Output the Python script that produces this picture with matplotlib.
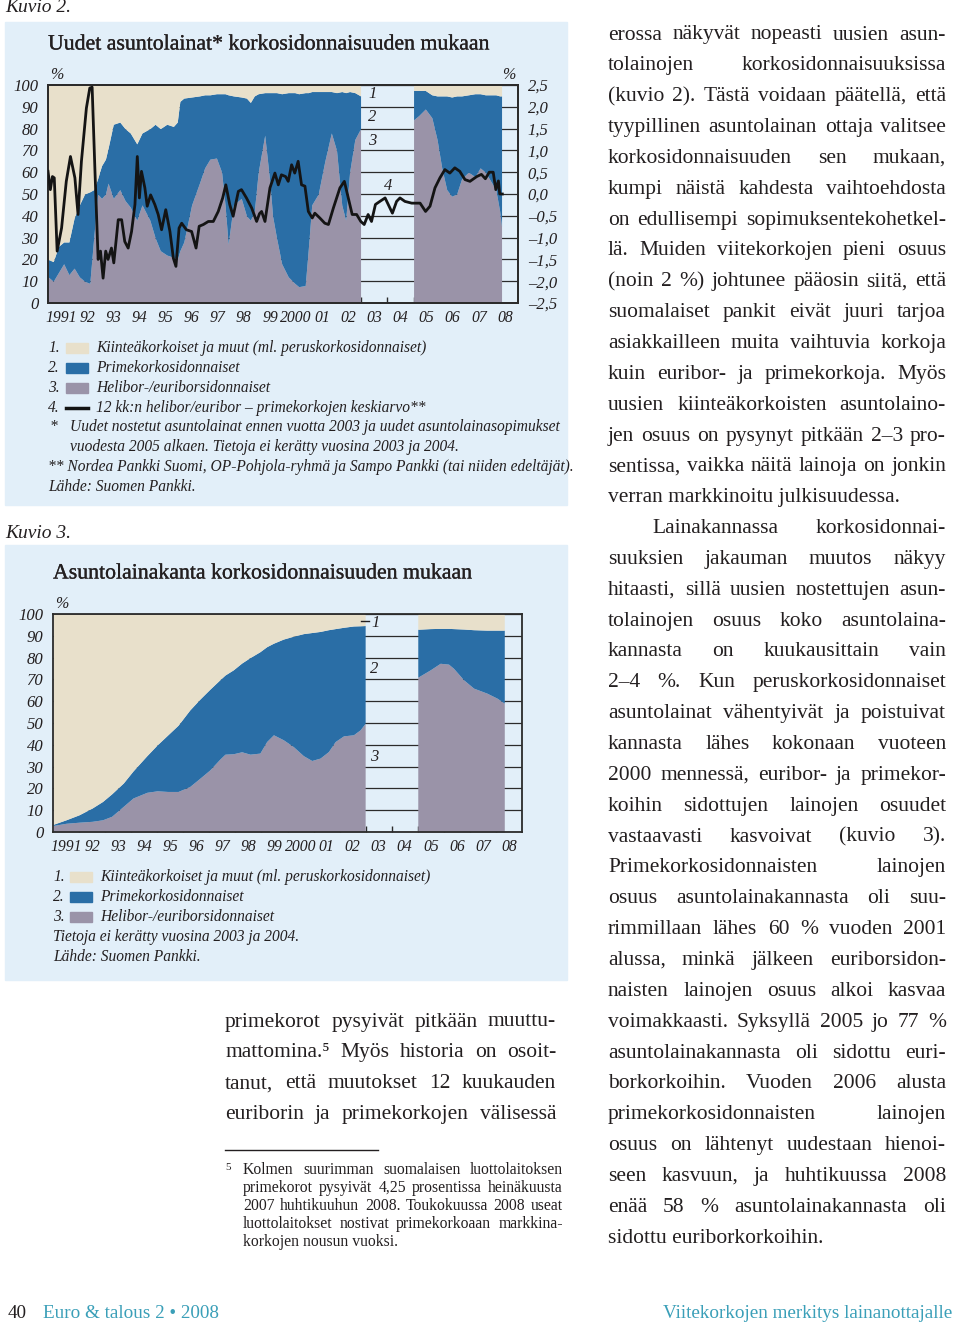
import numpy as np
import matplotlib
matplotlib.use('Agg')
import matplotlib.pyplot as plt
import matplotlib.patheffects as pe
from matplotlib.patches import Rectangle
from matplotlib.lines import Line2D

# --- Kuvio 2: uudet asuntolainat (osuus %, 2003-2004 ei tietoja) ---
k2_t = [1991.0, 1991.2, 1991.4, 1991.6, 1991.8, 1992.0, 1992.2, 1992.4, 1992.6, 1992.75,
        1992.9, 1993.05, 1993.2, 1993.3, 1993.5, 1993.75, 1993.95, 1994.15, 1994.4, 1994.6,
        1994.9, 1995.1, 1995.3, 1995.55, 1995.8, 1995.95, 1996.05, 1996.2, 1996.5, 1996.8,
        1997.0, 1997.2, 1997.45, 1997.65, 1997.78, 1997.9, 1998.1, 1998.4, 1998.6, 1998.75,
        1998.9, 1999.05, 1999.3, 1999.5, 1999.6, 1999.75, 1999.95, 2000.2, 2000.45, 2000.6,
        2000.85, 2000.97, 2001.1, 2001.35, 2001.6, 2001.85, 2002.05, 2002.25, 2002.4, 2002.55,
        2002.75, 2002.97,
        2005.0, 2005.2, 2005.45, 2005.7, 2005.9, 2006.08, 2006.27, 2006.46, 2006.65, 2006.84,
        2007.1, 2007.35, 2007.55, 2007.75, 2008.0, 2008.15, 2008.3, 2008.37]
k2_helibor = [12, 10, 14, 18, 13, 16, 12, 10, 9, 30,
              50, 48, 50, 55, 48, 52, 47, 44, 38, 45,
              38, 30, 24, 22, 21, 20, 24, 28, 45, 55,
              62, 66, 66.5, 60, 45, 27, 45, 48, 40, 38,
              42, 60, 77, 55, 40, 30, 18, 12, 9, 7.5,
              8, 25, 45, 50, 65, 78, 70, 45, 38, 60,
              75, 80,
              84, 86, 89, 85, 75, 62, 52, 49, 50, 57,
              60, 58, 62, 60, 55, 52, 42, 35]
k2_prime = [8, 9, 12, 10, 15, 23, 33, 40, 42, 22,
            7, 15, 16, 16, 34, 31, 33, 34, 35, 33,
            42, 52, 56, 60, 60, 63, 68.5, 66, 49.5, 40,
            33.5, 29.5, 29.5, 36, 51, 68.5, 50, 46.5, 54, 54,
            53, 36, 19.5, 41.5, 56.5, 66.5, 78, 84.5, 87.5, 88.5,
            88.5, 71.5, 52, 47, 32, 19, 26.5, 52, 58.5, 37,
            21.5, 15,
            13.5, 11.5, 8.5, 10.5, 20, 33, 43, 45.5, 45, 38,
            35.5, 38, 34, 35.5, 40.5, 43.5, 53, 60]

# 12 kk:n helibor/euribor - primekorkojen keskiarvo (prosenttiyksikköä, oikea asteikko)
k2_line_t = [1991.0, 1991.09, 1991.17, 1991.24, 1991.35, 1991.52, 1991.7, 1991.86, 1992.03, 1992.15,
             1992.28, 1992.47, 1992.6, 1992.69, 1992.8, 1992.92, 1993.01, 1993.11, 1993.21, 1993.3,
             1993.43, 1993.52, 1993.69, 1993.82, 1993.94, 1994.07, 1994.2, 1994.33, 1994.42, 1994.5,
             1994.58, 1994.71, 1994.8, 1994.93, 1995.09, 1995.22, 1995.35, 1995.51, 1995.67, 1995.8,
             1995.9, 1996.02, 1996.12, 1996.3, 1996.5, 1996.67, 1996.79, 1996.95, 1997.14, 1997.33,
             1997.52, 1997.69, 1997.81, 1997.96, 1998.09, 1998.29, 1998.41, 1998.6, 1998.8, 1998.99,
             1999.1, 1999.18, 1999.31, 1999.5, 1999.69, 1999.82, 1999.94, 2000.1, 2000.2, 2000.33,
             2000.45, 2000.58, 2000.71, 2000.84, 2000.97, 2001.12, 2001.22, 2001.41, 2001.6, 2001.74,
             2001.93, 2002.18, 2002.35, 2002.5, 2002.65, 2002.82, 2002.98, 2003.11, 2003.26, 2003.39,
             2003.54, 2003.71, 2003.91, 2004.03, 2004.19, 2004.35, 2004.48, 2004.67, 2004.93, 2005.25,
             2005.46, 2005.63, 2005.82, 2006.01, 2006.2, 2006.39, 2006.58, 2006.77, 2006.97, 2007.16,
             2007.42, 2007.6, 2007.75, 2007.9, 2008.05, 2008.15, 2008.25, 2008.3, 2008.4]
k2_spread = [0.52, 0.1, 0.4, 0.37, -1.31, -0.78, 0.29, 0.86, 0.37, -0.47,
             0.75, 1.97, 2.43, 2.45, 0.5, -1.5, -1.31, -1.93, -1.31, -1.5,
             -1.24, -1.58, -0.59, -0.59, -1.09, -1.24, -0.86, -0.24, 0.86, -0.09,
             0.52, 0.14, -0.28, -0.02, -0.24, -0.47, -0.82, -0.36, -0.86, -1.47,
             -1.66, -0.78, -0.67, -0.82, -0.86, -1.24, -0.74, -0.7, -0.63, -0.63,
             -0.4, -0.09, 0.21, -0.24, -0.51, 0.06, 0.1, -0.09, -0.32, -0.63,
             -0.45, -0.4, -0.63, 0.14, 0.48, 0.21, 0.44, 0.4, 0.29, 0.67,
             0.48, 0.75, 0.21, 0.18, -0.4, -0.55, -0.44, -0.55, -0.67, -0.7,
             -0.32, 0.14, 0.29, -0.09, -0.47, -0.47, -0.63, -0.7, -0.47, -0.63,
             -0.24, -0.17, -0.09, -0.24, -0.44, -0.17, -0.09, -0.17, -0.21, -0.21,
             -0.4, -0.28, 0.14, 0.37, 0.56, 0.48, 0.6, 0.52, 0.33, 0.29,
             0.4, 0.45, 0.35, 0.5, 0.5, 0.1, 0.3, 0.0, 0.0]

# --- Kuvio 3: asuntolainakanta (osuus %) ---
k3_t = [1991.0, 1991.5, 1992.0, 1992.5, 1992.9, 1993.25, 1993.7, 1994.07, 1994.6, 1995.0,
        1995.4, 1995.8, 1996.25, 1996.64, 1997.02, 1997.4, 1997.6, 1997.92, 1998.24, 1998.56,
        1998.94, 1999.2, 1999.46, 1999.84, 2000.22, 2000.61, 2000.93, 2001.25, 2001.57, 2001.83,
        2002.15, 2002.53, 2002.79, 2002.98,
        2005.0, 2005.48, 2005.86, 2006.18, 2006.37, 2006.76, 2007.14, 2007.65, 2008.04, 2008.32]
k3_helibor = [3, 4.0, 4.5, 4.9, 5.6, 7.2, 11.8, 15.6, 18.2, 18.9,
              18.6, 18.6, 20.9, 24.7, 28.5, 33.4, 35.7, 35.9, 36.8, 35.7,
              36.2, 41.5, 44.6, 42.3, 39.2, 35, 32.8, 33.9, 36.9, 41.5,
              44.1, 44.6, 46.9, 49.9,
              71, 74.4, 77.4, 77, 75.1, 69.8, 66, 63.7, 61.4, 59.1]
k3_prime = [0.5, 1.6, 3.4, 6.1, 8.4, 10.3, 10.7, 12.4, 16.8, 21.1,
            25.9, 30.4, 35.1, 36.3, 37, 36.4, 36.3, 38.5, 40.7, 44.3,
            46.5, 43.5, 42, 46.2, 50.6, 56, 58.7, 58.1, 55.9, 51.8,
            49.8, 49.9, 47.7, 44.8,
            22, 18.9, 16, 16.4, 18.2, 23.3, 26.8, 28.9, 31.2, 33.5]

year_labels = ['1991', '92', '93', '94', '95', '96', '97', '98', '99', '2000',
               '01', '02', '03', '04', '05', '06', '07', '08']

legend_k2 = ['Kiinteäkorkoiset ja muut (ml. peruskorkosidonnaiset)',
             'Primekorkosidonnaiset',
             'Helibor-/euriborsidonnaiset',
             '12 kk:n helibor/euribor – primekorkojen keskiarvo**']

body_mid = ['primekorot pysyivät pitkään muuttu-',
            'mattomina.⁵ Myös historia on osoit-',
            'tanut, että muutokset 12 kuukauden',
            'euriborin ja primekorkojen välisessä']

footnote = ['Kolmen suurimman suomalaisen luottolaitoksen',
            'primekorot pysyivät 4,25 prosentissa heinäkuusta',
            '2007 huhtikuuhun 2008. Toukokuussa 2008 useat',
            'luottolaitokset nostivat primekorkoaan markkina-',
            'korkojen nousun vuoksi.']

body_right = ['erossa näkyvät nopeasti uusien asun-',
              'tolainojen korkosidonnaisuuksissa',
              '(kuvio 2). Tästä voidaan päätellä, että',
              'tyypillinen asuntolainan ottaja valitsee',
              'korkosidonnaisuuden sen mukaan,',
              'kumpi näistä kahdesta vaihtoehdosta',
              'on edullisempi sopimuksentekohetkel-',
              'lä. Muiden viitekorkojen pieni osuus',
              '(noin 2 %) johtunee pääosin siitä, että',
              'suomalaiset pankit eivät juuri tarjoa',
              'asiakkailleen muita vaihtuvia korkoja',
              'kuin euribor- ja primekorkoja. Myös',
              'uusien kiinteäkorkoisten asuntolaino-',
              'jen osuus on pysynyt pitkään 2–3 pro-',
              'sentissa, vaikka näitä lainoja on jonkin',
              'verran markkinoitu julkisuudessa.',
              'Lainakannassa korkosidonnai-',
              'suuksien jakauman muutos näkyy',
              'hitaasti, sillä uusien nostettujen asun-',
              'tolainojen osuus koko asuntolaina-',
              'kannasta on kuukausittain vain',
              '2–4 %. Kun peruskorkosidonnaiset',
              'asuntolainat vähentyivät ja poistuivat',
              'kannasta lähes kokonaan vuoteen',
              '2000 mennessä, euribor- ja primekor-',
              'koihin sidottujen lainojen osuudet',
              'vastaavasti kasvoivat (kuvio 3).',
              'Primekorkosidonnaisten lainojen',
              'osuus asuntolainakannasta oli suu-',
              'rimmillaan lähes 60 % vuoden 2001',
              'alussa, minkä jälkeen euriborsidon-',
              'naisten lainojen osuus alkoi kasvaa',
              'voimakkaasti. Syksyllä 2005 jo 77 %',
              'asuntolainakannasta oli sidottu euri-',
              'borkorkoihin. Vuoden 2006 alusta',
              'primekorkosidonnaisten lainojen',
              'osuus on lähtenyt uudestaan hienoi-',
              'seen kasvuun, ja huhtikuussa 2008',
              'enää 58 % asuntolainakannasta oli',
              'sidottu euriborkorkoihin.']

BEIGE = '#e8e0cb'
BLUE = '#2a6ea6'
GREY = '#9a93a8'
PANEL = '#e2eff9'
TEXT = '#231f20'
TEAL = '#3a9fb8'
FRAME = '#2b2b2b'

plt.rcParams['font.family'] = ['Liberation Serif', 'DejaVu Serif']

W, H = 960, 1324
fig = plt.figure(figsize=(W / 100, H / 100), dpi=100)
fig.patch.set_facecolor('white')


def fx(x):
    return x / W


def fy(y):
    return 1 - y / H


def put(x, y, s, size, **kw):
    kw.setdefault('va', 'center')
    kw.setdefault('color', TEXT)
    return fig.text(fx(x), fy(y), s, fontsize=size, **kw)


def justify(lines, x0, x1, y0, dy, size, last=(), indent=None):
    indent = indent or {}
    r = fig.canvas.get_renderer()
    for i, line in enumerate(lines):
        y = y0 + i * dy
        xs = x0 + indent.get(i, 0)
        if i in last:
            put(xs, y, line, size)
            continue
        words = line.split(' ')
        arts = [put(xs, y, w, size) for w in words]
        widths = [a.get_window_extent(r).width for a in arts]
        gap = (x1 - xs - sum(widths)) / max(len(words) - 1, 1)
        x = xs
        for a, w in zip(arts, widths):
            a.set_x(fx(x))
            x += w + gap


def add_axes(left, top, right, bottom):
    return fig.add_axes([fx(left), fy(bottom), (right - left) / W, (bottom - top) / H])


def draw_areas(ax, t, hel, pri):
    t = np.array(t)
    hel = np.array(hel, dtype=float)
    pri = np.array(pri, dtype=float)
    for seg in (t < 2004, t > 2004):
        tt, h, p = t[seg], hel[seg], pri[seg]
        ax.fill_between(tt, 0, h, color=GREY, lw=0, zorder=2)
        ax.fill_between(tt, h, h + p, color=BLUE, lw=0, zorder=2)
        ax.fill_between(tt, h + p, 100, color=BEIGE, lw=0, zorder=2)


def style_axes(ax):
    ax.set_facecolor(PANEL)
    ax.set_xlim(1991, 2009)
    ax.set_ylim(0, 100)
    ax.set_yticks(range(0, 101, 10))
    ax.set_yticklabels([str(v) for v in range(0, 101, 10)], fontstyle='italic')
    ax.grid(axis='y', color=FRAME, lw=0.9)
    ax.set_axisbelow(True)
    ax.set_xticks(np.arange(1992, 2009))
    ax.set_xticklabels([])
    ax.set_xticks(np.arange(1991.5, 2009), minor=True)
    ax.set_xticklabels(year_labels, minor=True, fontstyle='italic')
    ax.tick_params(axis='x', which='major', direction='in', length=4, color=FRAME, width=1)
    ax.tick_params(axis='x', which='minor', length=0, pad=5, labelsize=11.3, labelcolor=TEXT)
    ax.tick_params(axis='y', length=0, pad=7, labelsize=12, labelcolor=TEXT)
    for sp in ax.spines.values():
        sp.set_color(FRAME)
        sp.set_linewidth(1.3)


# panels (behind the axes)
fig.patches.append(Rectangle((fx(5), fy(505)), 562 / W, 483 / H, transform=fig.transFigure,
                             color=PANEL, zorder=-2))
fig.patches.append(Rectangle((fx(5), fy(980)), 562 / W, 435 / H, transform=fig.transFigure,
                             color=PANEL, zorder=-2))

title_fx = [pe.withStroke(linewidth=0.2, foreground=TEXT)]

# ---------------- Kuvio 2 ----------------
put(5, 8, 'Kuvio 2.', 14, style='italic')
put(48, 45, 'Uudet asuntolainat* korkosidonnaisuuden mukaan', 15.7, path_effects=title_fx)
put(50, 75, '%', 11.5, style='italic')
put(502, 75, '%', 11.5, style='italic')

ax1 = add_axes(48, 85, 518, 303)
style_axes(ax1)
draw_areas(ax1, k2_t, k2_helibor, k2_prime)

ax1r = ax1.twinx()
ax1r.set_ylim(-2.5, 2.5)
rt = np.arange(-2.5, 2.51, 0.5)
ax1r.set_yticks(rt)
ax1r.set_yticklabels([('%.1f' % v).replace('.', ',').replace('-', '–') for v in rt],
                     fontstyle='italic')
ax1r.tick_params(axis='y', length=0, pad=7, labelsize=12, labelcolor=TEXT)
ax1r.plot(k2_line_t, k2_spread, color='#141414', lw=2.0, zorder=5)
for sp in ax1r.spines.values():
    sp.set_color(FRAME)
    sp.set_linewidth(1.3)

put(368, 94, '1', 12, style='italic')
put(368, 117, '2', 12, style='italic')
put(368, 141, '3', 12, style='italic')
put(384, 186, '4', 12, style='italic')

leg_y = [348, 368, 388, 408]
for i, (txt, col) in enumerate(zip(legend_k2, [BEIGE, BLUE, GREY, None])):
    put(48, leg_y[i], '%d.' % (i + 1), 11.2, style='italic')
    if col:
        fig.patches.append(Rectangle((fx(66), fy(leg_y[i] + 5)), 22 / W, 10 / H,
                                     transform=fig.transFigure, color=col, zorder=1))
    else:
        fig.lines.append(Line2D([fx(66), fx(88)], [fy(leg_y[i]), fy(leg_y[i])],
                                transform=fig.transFigure, color='#141414', lw=2.5))
    put(96, leg_y[i], txt, 11.2, style='italic')

put(50, 427, '*', 11.2, style='italic')
put(70, 427, 'Uudet nostetut asuntolainat ennen vuotta 2003 ja uudet asuntolainasopimukset', 11.2,
    style='italic')
put(70, 447, 'vuodesta 2005 alkaen. Tietoja ei kerätty vuosina 2003 ja 2004.', 11.2, style='italic')
put(48, 467, '** Nordea Pankki Suomi, OP-Pohjola-ryhmä ja Sampo Pankki (tai niiden edeltäjät).', 11.2,
    style='italic')
put(48, 487, 'Lähde: Suomen Pankki.', 11.2, style='italic')

# ---------------- Kuvio 3 ----------------
put(5, 533, 'Kuvio 3.', 14, style='italic')
put(53, 574, 'Asuntolainakanta korkosidonnaisuuden mukaan', 15.7, path_effects=title_fx)
put(55, 604, '%', 11.5, style='italic')

ax2 = add_axes(53, 614, 522, 832)
style_axes(ax2)
draw_areas(ax2, k3_t, k3_helibor, k3_prime)

fig.lines.append(Line2D([fx(361), fx(369)], [fy(621), fy(621)], transform=fig.transFigure,
                        color=TEXT, lw=1))
put(371, 623, '1', 12, style='italic')
put(370, 669, '2', 12, style='italic')
put(370, 757, '3', 12, style='italic')

leg_y = [877, 897, 917]
for i, (txt, col) in enumerate(zip(legend_k2[:3], [BEIGE, BLUE, GREY])):
    put(53, leg_y[i], '%d.' % (i + 1), 11.2, style='italic')
    fig.patches.append(Rectangle((fx(70), fy(leg_y[i] + 5)), 22 / W, 10 / H,
                                 transform=fig.transFigure, color=col, zorder=1))
    put(100, leg_y[i], txt, 11.2, style='italic')
put(53, 937, 'Tietoja ei kerätty vuosina 2003 ja 2004.', 11.2, style='italic')
put(53, 957, 'Lähde: Suomen Pankki.', 11.2, style='italic')

# ---------------- body text ----------------
justify(body_mid, 225, 556, 1022, 30.9, 15.5)
fig.lines.append(Line2D([fx(225), fx(378)], [fy(1150), fy(1150)], transform=fig.transFigure,
                        color=TEXT, lw=1))
put(225, 1167, '5', 8)
justify(footnote, 243, 563, 1170, 18, 11.3, last=(4,))
justify(body_right, 608, 946, 35, 30.85, 15.5, last=(15, 39), indent={16: 44})

# footer
put(8, 1314, '40', 13.8)
put(43, 1314, 'Euro & talous 2 • 2008', 13.8, color=TEAL)
put(952, 1314, 'Viitekorkojen merkitys lainanottajalle', 13.8, color=TEAL, ha='right')

fig.savefig('out.png', dpi=100)
